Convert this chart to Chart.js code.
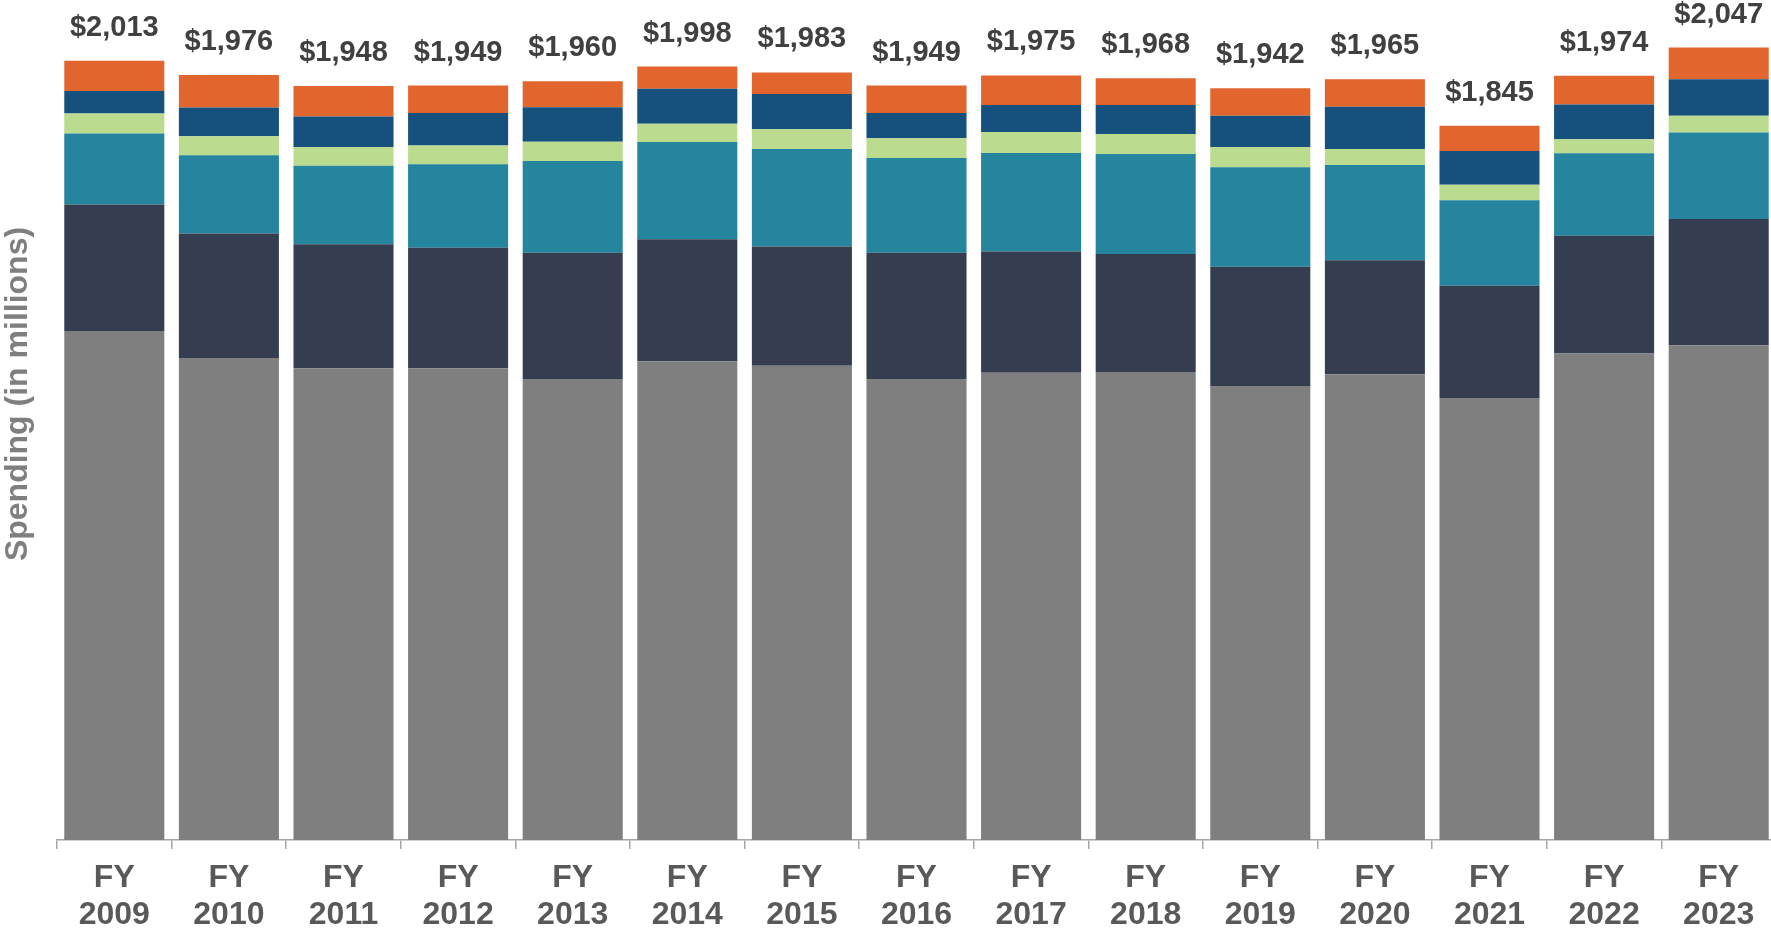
<!DOCTYPE html>
<html lang="en">
  <head>
    <meta charset="UTF-8">
    <title>Spending by fiscal year</title>
    <style>
      html, body { margin: 0; padding: 0; background: #fff; overflow: hidden; }
      /* a few px wider than the window so the last bar runs to the edge like the original */
      .chart-box { width: 1776px; height: 931px; position: relative; }
    </style>
  </head>
  <body>
    <div class="chart-box">
      <canvas id="myChart"></canvas>
    </div>

    <script src="https://cdn.jsdelivr.net/npm/chart.js"></script>
    <script>
      // fiscal years (x axis), two lines each
      const years = ['2009','2010','2011','2012','2013','2014','2015','2016','2017','2018','2019','2020','2021','2022','2023'];

      // spending per segment, in millions, bottom to top
      const graySeg   = [1315,1245,1219,1219,1191,1237,1225,1191,1207,1209,1173,1203,1142,1257,1278];
      const navySeg   = [327,322,320,311,326,315,308,326,313,305,308,295,290,304,326];
      const tealSeg   = [183,202,203,216,237,251,252,245,255,258,257,246,221,213,224];
      const greenSeg  = [52,49,48,48,50,47,51,51,54,52,52,41,40,36,43];
      const blueSeg   = [58,74,79,84,89,91,91,65,70,75,81,109,87,90,94];
      const orangeSeg = [78,84,79,71,67,57,56,71,76,69,71,71,65,74,82];

      const FONT = '"Liberation Sans", Arial, sans-serif';
      const ctx = document.getElementById('myChart');

      // $ totals above each stack
      const totalsLabels = {
        id: 'totalsLabels',
        afterDatasetsDraw(chart) {
          const c = chart.ctx;
          const topMeta = chart.getDatasetMeta(chart.data.datasets.length - 1);
          c.save();
          c.font = 'bold 29px ' + FONT;
          c.fillStyle = '#404040';
          c.textAlign = 'center';
          c.textBaseline = 'alphabetic';
          years.forEach((y, i) => {
            let sum = 0;
            chart.data.datasets.forEach(ds => { sum += ds.data[i]; });
            const bar = topMeta.data[i];
            c.fillText('$' + sum.toLocaleString('en-US'), bar.x, bar.y - 25);
          });
          c.restore();
        }
      };

      // rotated y title
      const yTitle = {
        id: 'yTitle',
        afterDraw(chart) {
          const c = chart.ctx;
          c.save();
          c.translate(18, 394);
          c.rotate(-Math.PI / 2);
          c.font = 'bold 32px ' + FONT;
          c.fillStyle = '#7f7f7f';
          c.textAlign = 'center';
          c.textBaseline = 'middle';
          c.fillText('Spending (in millions)', 0, 0);
          c.restore();
        }
      };

      function seg(data, color) {
        return { data: data, backgroundColor: color, borderWidth: 0 };
      }

      new Chart(ctx, {
        type: 'bar',
        data: {
          labels: years.map(y => ['FY', y]),
          datasets: [
            seg(graySeg, '#7f7f7f'),
            seg(navySeg, '#343e50'),
            seg(tealSeg, '#25849e'),
            seg(greenSeg, '#bbdb8f'),
            seg(blueSeg, '#15517c'),
            seg(orangeSeg, '#e2652e')
          ]
        },
        options: {
          responsive: true,
          maintainAspectRatio: false,
          animation: false,
          layout: { padding: { left: 57, right: 0, top: 0, bottom: 0 } },
          datasets: { bar: { categoryPercentage: 1, barPercentage: 0.873 } },
          plugins: {
            legend: { display: false },
            tooltip: { enabled: false }
          },
          scales: {
            x: {
              stacked: true,
              afterFit(scale) { scale.height = 91; },
              grid: {
                display: true,
                drawOnChartArea: false,
                drawTicks: true,
                tickLength: 9,
                color: '#a6a6a6',
                lineWidth: 1.5
              },
              border: { display: true, color: '#a6a6a6', width: 1.5 },
              ticks: {
                color: '#595959',
                padding: 11,
                maxRotation: 0,
                autoSkip: false,
                font: { family: FONT, size: 32, weight: 'bold', lineHeight: 1.145 }
              }
            },
            y: {
              stacked: true,
              display: false,
              min: 0,
              max: 2170
            }
          }
        },
        plugins: [totalsLabels, yTitle]
      });
    </script>
  </body>
</html>
